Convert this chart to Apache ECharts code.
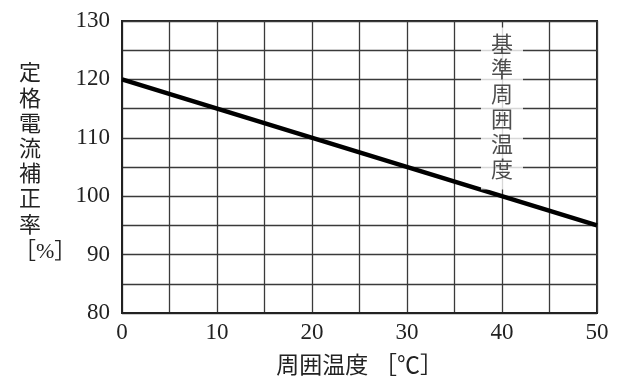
<!DOCTYPE html>
<html><head><meta charset="utf-8">
<script src="https://cdn.jsdelivr.net/npm/echarts@6/dist/echarts.min.js"></script>
<style>html,body{margin:0;padding:0;background:#fff}#c{width:632px;height:387px}</style>
</head><body><div id="c"></div>
<script>
const temperature = [0, 50];
const correctionRate = [120, 95];
const xTickLabels = [0, 10, 20, 30, 40, 50];
const yTickLabels = [80, 90, 100, 110, 120, 130];
const refTempLabel = '基準周囲温度';
const refTempPos = [40, 115];
const yTitle = '定格電流補正率';
const yUnit = '［%］';
const xTitle = '周囲温度 ［℃］';

const FONT = '"Liberation Serif", "Noto Sans CJK JP", serif';
const chart = echarts.init(document.getElementById('c'));
chart.setOption({
  animation: false,
  backgroundColor: '#fff',
  grid: { left: 122, right: 35, top: 21, bottom: 74, show: true, borderColor: '#222', borderWidth: 2 },
  xAxis: {
    type: 'value', min: 0, max: 50, interval: 5,
    name: xTitle, nameLocation: 'middle', nameGap: 42,
    nameTextStyle: { fontFamily: FONT, fontSize: 23, color: '#222' },
    axisLine: { lineStyle: { color: '#222', width: 2 } },
    axisTick: { show: false },
    axisLabel: { fontFamily: FONT, fontSize: 23, color: '#222', margin: 8,
      formatter: v => xTickLabels.includes(v) ? String(v) : '' },
    splitLine: { lineStyle: { color: '#3a3a3a', width: 1.3 } }
  },
  yAxis: {
    type: 'value', min: 80, max: 130, interval: 5,
    axisLine: { lineStyle: { color: '#222', width: 2 } },
    axisTick: { show: false },
    axisLabel: { fontFamily: FONT, fontSize: 23, color: '#222', margin: 12,
      formatter: v => yTickLabels.includes(v) ? String(v) : '' },
    splitLine: { lineStyle: { color: '#3a3a3a', width: 1.3 } }
  },
  graphic: [{
    type: 'text', left: 19, top: 62,
    style: { text: yTitle.split('').join('\n'), fontFamily: FONT, fontSize: 22,
      lineHeight: 25.2, fill: '#222', align: 'center', width: 44 }
  }, {
    type: 'text', left: 14, top: 241,
    style: { text: yUnit, fontFamily: FONT, fontSize: 22, fill: '#222' }
  }],
  series: [{
    type: 'line', data: temperature.map((t, i) => [t, correctionRate[i]]),
    symbol: 'none', lineStyle: { color: '#000', width: 4.5 }, z: 3
  }, {
    type: 'scatter', data: [refTempPos], symbolSize: 1, itemStyle: { color: 'transparent' }, z: 4,
    label: { show: true, position: 'inside', formatter: refTempLabel.split('').join('\n'),
      fontFamily: FONT, fontSize: 22, lineHeight: 25, color: '#222',
      backgroundColor: '#fff', padding: [6, 10] }
  }]
});
</script></body></html>
